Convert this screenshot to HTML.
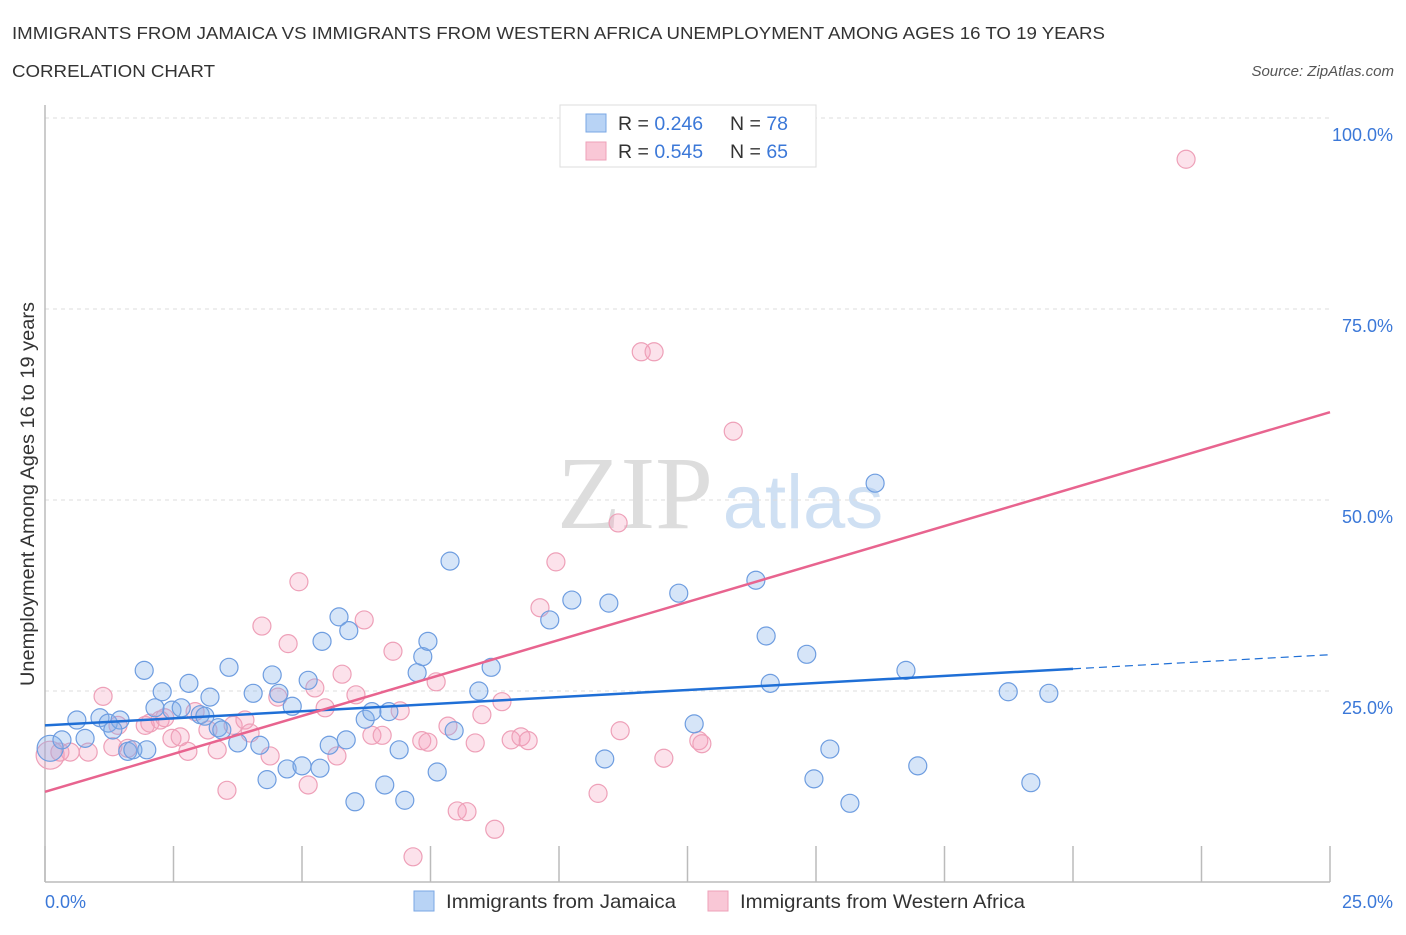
<!DOCTYPE html>
<html><head><meta charset="utf-8"><style>
body{margin:0;background:#fff;font-family:"Liberation Sans",sans-serif;}
</style></head><body>
<svg id="chart" width="1406" height="930" xmlns="http://www.w3.org/2000/svg">
<text x="12" y="39" font-size="17.5" fill="#333" textLength="1093" lengthAdjust="spacingAndGlyphs">IMMIGRANTS FROM JAMAICA VS IMMIGRANTS FROM WESTERN AFRICA UNEMPLOYMENT AMONG AGES 16 TO 19 YEARS</text>
<text x="12" y="77" font-size="17.5" fill="#333" textLength="203" lengthAdjust="spacingAndGlyphs">CORRELATION CHART</text>
<text x="1394" y="76" font-size="15" fill="#555" font-style="italic" text-anchor="end">Source: ZipAtlas.com</text>
<text x="635" y="528" font-size="104" fill="#ddd" font-family="Liberation Serif,serif" text-anchor="middle">ZIP</text>
<text x="803" y="528" font-size="76" fill="#cfe0f3" text-anchor="middle">atlas</text>
<g id="grid"></g><g id="pts"></g><g id="lines"></g>
<text x="34" y="494" font-size="19" fill="#333" text-anchor="middle" textLength="384" lengthAdjust="spacingAndGlyphs" transform="rotate(-90 34 494)">Unemployment Among Ages 16 to 19 years</text>
<text x="45" y="908" font-size="18" fill="#3b78d8">0.0%</text>
<text x="1393" y="908" font-size="18" fill="#3b78d8" text-anchor="end">25.0%</text>
<g>
<rect x="560" y="105" width="256" height="62" fill="#fff" stroke="#ddd"/>
<rect x="586" y="114" width="20" height="18" fill="#b8d3f5" stroke="#7aa7e4"/>
<rect x="586" y="142" width="20" height="18" fill="#f9c7d6" stroke="#eea0b8"/>
<text x="618" y="130" font-size="19.5" fill="#333">R = <tspan fill="#3b78d8">0.246</tspan></text>
<text x="730" y="130" font-size="19.5" fill="#333">N = <tspan fill="#3b78d8">78</tspan></text>
<text x="618" y="158" font-size="19.5" fill="#333">R = <tspan fill="#3b78d8">0.545</tspan></text>
<text x="730" y="158" font-size="19.5" fill="#333">N = <tspan fill="#3b78d8">65</tspan></text>
</g>
<g>
<rect x="414" y="891" width="20" height="20" fill="#b8d3f5" stroke="#7aa7e4"/>
<text x="446" y="908" font-size="19.5" fill="#333" textLength="230" lengthAdjust="spacingAndGlyphs">Immigrants from Jamaica</text>
<rect x="708" y="891" width="20" height="20" fill="#f9c7d6" stroke="#eea0b8"/>
<text x="740" y="908" font-size="19.5" fill="#333" textLength="285" lengthAdjust="spacingAndGlyphs">Immigrants from Western Africa</text>
</g>
</svg>
<script>
const yTicks=[25,50,75,100];
const yTickLabels=["25.0%","50.0%","75.0%","100.0%"];
const blueX=[0.10,0.33,0.62,0.78,1.07,1.23,1.46,1.32,1.61,1.71,1.98,1.93,2.14,2.28,2.47,2.65,2.80,3.02,3.11,3.21,3.37,3.44,3.58,3.75,4.05,4.18,4.32,4.42,4.55,4.71,4.81,5.00,5.12,5.35,5.39,5.53,5.72,5.86,5.91,6.03,6.23,6.36,6.61,6.69,6.89,7.00,7.24,7.35,7.45,7.63,7.88,7.96,8.44,8.68,9.82,10.25,10.89,10.97,12.33,12.63,13.83,14.03,14.11,14.82,14.96,15.27,15.66,16.15,16.75,16.98,18.74,19.18,19.53];
const blueY=[17.5,18.6,21.2,18.8,21.5,20.8,21.2,19.9,17.1,17.3,17.3,27.7,22.8,24.9,22.5,22.8,26.0,21.9,21.7,24.2,20.2,19.9,28.1,18.2,24.7,17.9,13.4,27.1,24.7,14.8,23.0,15.2,26.4,14.9,31.5,17.9,34.7,18.6,32.9,10.5,21.3,22.3,12.7,22.3,17.3,10.7,27.4,29.5,31.5,14.4,42.0,19.8,25.0,28.1,34.3,36.9,16.1,36.5,37.8,20.7,39.5,32.2,26.0,29.8,13.5,17.4,10.3,52.2,27.7,15.2,24.9,13.0,24.7];
const pinkX=[0.10,0.29,0.49,0.84,1.13,1.32,1.42,1.61,1.95,2.04,2.24,2.33,2.47,2.63,2.78,2.92,3.17,3.35,3.54,3.66,3.89,3.99,4.22,4.38,4.53,4.73,4.94,5.12,5.25,5.45,5.68,5.78,6.05,6.21,6.36,6.56,6.77,6.91,7.16,7.33,7.45,7.61,7.84,8.02,8.21,8.37,8.50,8.75,8.89,9.07,9.26,9.40,9.63,9.94,10.76,11.15,11.19,11.60,11.85,12.04,12.72,12.78,13.39,22.20];
const pinkY=[16.6,17.0,17.0,17.0,24.3,17.7,20.5,17.5,20.5,20.8,21.2,21.5,18.8,19.0,17.1,22.3,19.9,17.3,12.0,20.5,21.2,19.5,33.5,16.5,24.2,31.2,39.3,12.7,25.4,22.8,16.5,27.2,24.5,34.3,19.2,19.2,30.2,22.4,3.3,18.5,18.3,26.2,20.4,9.3,9.2,18.2,21.9,6.9,23.6,18.6,19.0,18.5,35.9,41.9,11.6,47.0,19.8,69.4,69.4,16.2,18.5,18.1,59.0,94.6];
const blueTrend=[20.5,27.9];
const pinkTrend=[11.8,61.5];
const X=v=>45+v*51.4, Y=v=>882-v*7.64;
const NS="http://www.w3.org/2000/svg";
function mk(tag,attrs,parent){const e=document.createElementNS(NS,tag);for(const k in attrs)e.setAttribute(k,attrs[k]);parent.appendChild(e);return e;}
const grid=document.getElementById('grid');
yTicks.forEach((t,i)=>{
 const l=mk('line',{x1:45,x2:1330,y1:Y(t),y2:Y(t),stroke:'#ddd','stroke-dasharray':'4 4'},grid);
 
 
 const tx=mk('text',{x:1393,y:Y(t)+23,'font-size':18,fill:'#3b78d8','text-anchor':'end'},grid);
 tx.textContent=yTickLabels[i];
 
 
});
const ax=mk('line',{x1:45,x2:45,y1:105,y2:882,stroke:'#bbb','stroke-width':1.5},grid);


const bx=mk('line',{x1:45,x2:1330,y1:882,y2:882,stroke:'#bbb','stroke-width':1.5},grid);


for(let i=0;i<=10;i++){
 const t=mk('line',{x1:X(i*2.5),x2:X(i*2.5),y1:846,y2:882,stroke:'#bbb','stroke-width':1.5},grid);
 
 
}
const pts=document.getElementById('pts');
pinkX.forEach((x,i)=>{
 const c=mk('circle',{cx:X(x),cy:Y(pinkY[i]),r:i==0?14:9,fill:'rgba(244,160,188,0.3)',stroke:'#eea0b8','stroke-width':1.2},pts);
 
 
});
blueX.forEach((x,i)=>{
 const c=mk('circle',{cx:X(x),cy:Y(blueY[i]),r:i==0?13:9,fill:'rgba(130,175,235,0.33)',stroke:'#6e9de0','stroke-width':1.2},pts);
 
 
});
const lines=document.getElementById('lines');
const bl=mk('line',{x1:X(0),y1:Y(blueTrend[0]),x2:X(20),y2:Y(blueTrend[1]),stroke:'#1f6fd6','stroke-width':2.5},lines);


const slope=(blueTrend[1]-blueTrend[0])/20;
const bd=mk('line',{x1:X(20),y1:Y(blueTrend[1]),x2:X(25),y2:Y(blueTrend[1]+slope*5),stroke:'#1f6fd6','stroke-width':1.2,'stroke-dasharray':'8 5'},lines);


const pl=mk('line',{x1:X(0),y1:Y(pinkTrend[0]),x2:X(25),y2:Y(pinkTrend[1]),stroke:'#e8648f','stroke-width':2.5},lines);


</script>
</body></html>
